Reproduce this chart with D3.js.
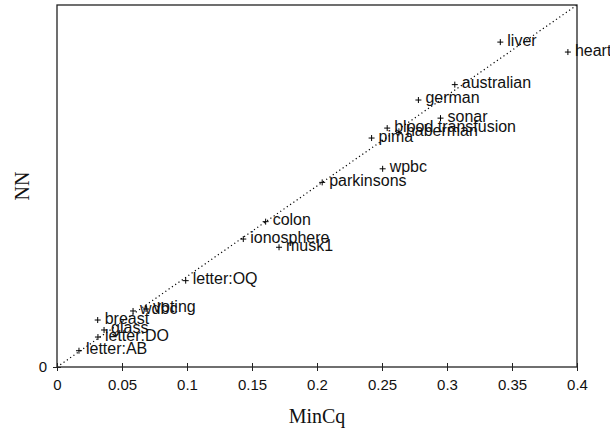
<!DOCTYPE html>
<html>
<head>
<meta charset="utf-8">
<script src="https://cdn.jsdelivr.net/npm/d3@7"></script>
<style>
  body { margin: 0; background: #fff; }
  svg { display: block; }
</style>
</head>
<body>
<div id="chart"></div>
<script>
// 数据集名称与两种方法的误差
const names = ['liver', 'heart', 'australian', 'german', 'sonar', 'blood transfusion',
  'haberman', 'pima', 'wpbc', 'parkinsons', 'colon', 'ionosphere', 'musk1',
  'letter:OQ', 'wdbc', 'voting', 'breast', 'glass', 'letter:DO', 'letter:AB'];
const minCq = [0.341, 0.393, 0.306, 0.278, 0.295, 0.254,
  0.263, 0.242, 0.2505, 0.204, 0.1605, 0.1433, 0.1708,
  0.099, 0.0585, 0.0685, 0.0313, 0.0362, 0.0315, 0.0169];
const nn = [0.359, 0.348, 0.312, 0.295, 0.275, 0.264,
  0.259, 0.253, 0.219, 0.204, 0.1606, 0.1414, 0.1323,
  0.0954, 0.0619, 0.0641, 0.0519, 0.0409, 0.0331, 0.018];
const xTicks = [0, 0.05, 0.1, 0.15, 0.2, 0.25, 0.3, 0.35, 0.4];
const xTickLabels = ['0', '0.05', '0.1', '0.15', '0.2', '0.25', '0.3', '0.35', '0.4'];

const W = 610, H = 435;
const margin = { top: 5, right: 33, bottom: 68, left: 57 };
const width = W - margin.left - margin.right;
const height = H - margin.top - margin.bottom;

const svg = d3.select('#chart').append('svg').attr('width', W).attr('height', H)
  .append('g').attr('transform', 'translate(' + margin.left + ',' + margin.top + ')');

const xScale = d3.scaleLinear().domain([0, 0.4]).range([0, width]);
const yScale = d3.scaleLinear().domain([0, 0.4]).range([height, 0]);

// 对角虚线
svg.append('line')
  .attr('x1', xScale(0)).attr('y1', yScale(0))
  .attr('x2', xScale(0.4)).attr('y2', yScale(0.4))
  .attr('stroke', '#000').attr('stroke-width', 1.2).attr('stroke-dasharray', '1.2,2.8');

// 外框
svg.append('rect').attr('width', width).attr('height', height)
  .attr('fill', 'none').attr('stroke', '#222').attr('stroke-width', 1.3);

// X轴
const xAxis = d3.axisBottom(xScale).tickValues(xTicks).tickSizeInner(4).tickSizeOuter(0)
  .tickFormat((d, i) => xTickLabels[i]);
const gx = svg.append('g').attr('transform', 'translate(0,' + height + ')').call(xAxis);
gx.select('.domain').remove();
gx.selectAll('.tick line').attr('y1', -4).attr('y2', 4).attr('stroke', '#222');
gx.selectAll('.tick text').attr('y', 12).attr('dy', '0.71em')
  .style('font-family', 'Liberation Sans, Arial, sans-serif').style('font-size', '15px').attr('fill', '#111');

// Y轴只有0
const yAxis = d3.axisLeft(yScale).tickValues([0]).tickSizeInner(4).tickSizeOuter(0)
  .tickFormat(() => '0');
const gy = svg.append('g').call(yAxis);
gy.select('.domain').remove();
gy.selectAll('.tick line').attr('x1', -4).attr('x2', 4).attr('stroke', '#222');
gy.selectAll('.tick text').attr('x', -10)
  .style('font-family', 'Liberation Sans, Arial, sans-serif').style('font-size', '15px').attr('fill', '#111');

// 坐标轴标题
svg.append('text').attr('x', width / 2).attr('y', height + 56)
  .attr('text-anchor', 'middle').style('font-family', 'Liberation Serif, Times New Roman, serif')
  .style('font-size', '20px').attr('fill', '#111').text('MinCq');
svg.append('text').attr('transform', 'translate(' + (-28) + ',' + (height / 2) + ') rotate(-90)')
  .attr('text-anchor', 'middle').style('font-family', 'Liberation Serif, Times New Roman, serif')
  .style('font-size', '20px').attr('fill', '#111').text('NN');

// 数据点
const data = names.map((n, i) => ({ name: n, x: minCq[i], y: nn[i] }));
const pts = svg.selectAll('.pt').data(data).enter().append('g')
  .attr('class', 'pt')
  .attr('transform', d => 'translate(' + xScale(d.x) + ',' + yScale(d.y) + ')');

pts.append('path').attr('d', 'M-3,0H3M0,-3V3')
  .attr('stroke', '#000').attr('stroke-width', 1);

pts.append('text').attr('x', 7).attr('dy', '0.2em')
  .attr('transform', 'scale(1,1.08)')
  .style('font-family', 'Liberation Sans, Arial, sans-serif').style('font-size', '16px')
  .attr('fill', '#111').text(d => d.name);
</script>
</body>
</html>
